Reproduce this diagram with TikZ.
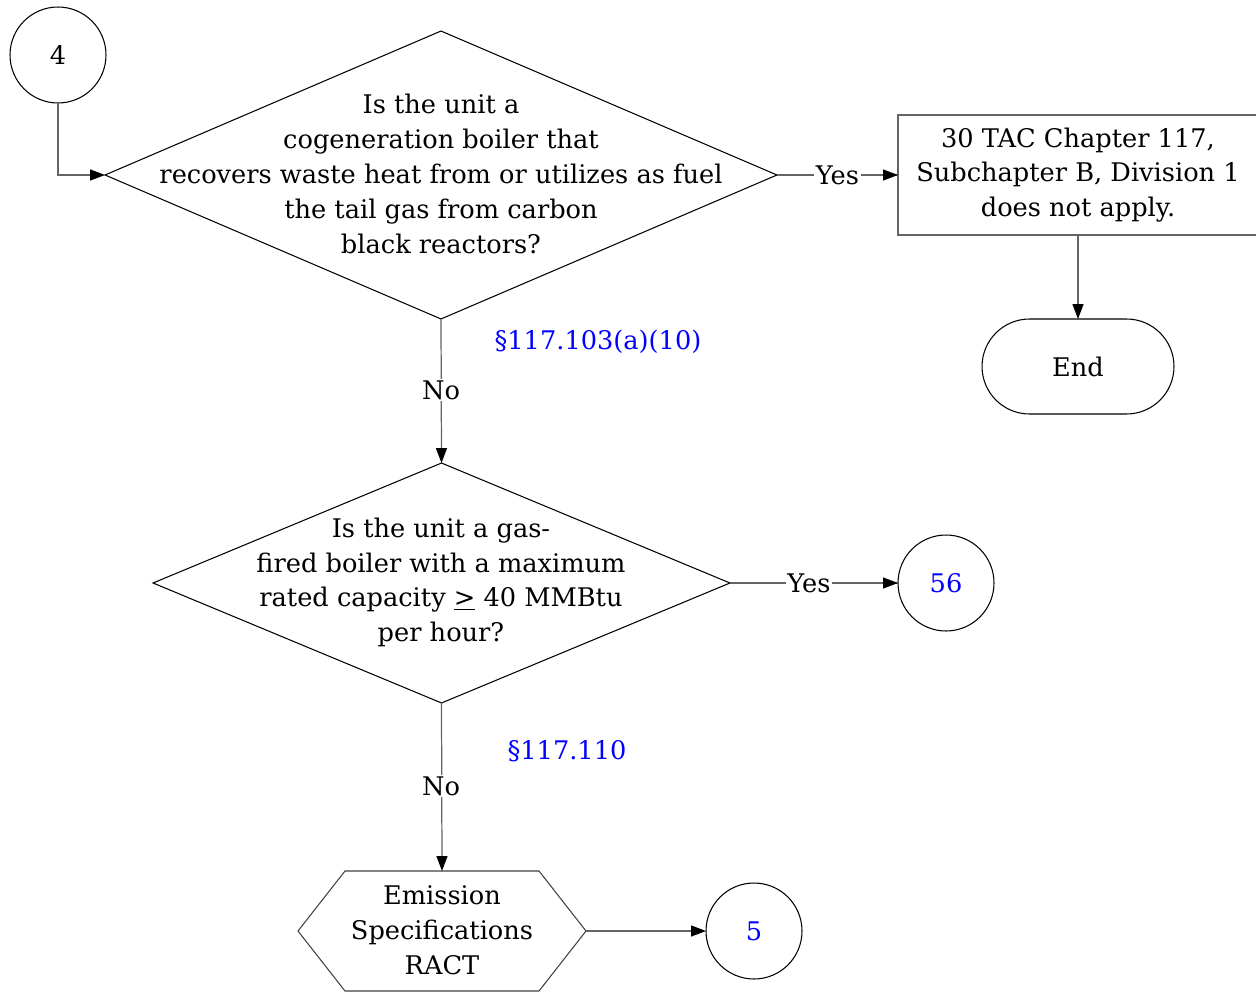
\documentclass[tikz,border=0pt]{standalone}
\usepackage{fontspec}
\setmainfont{DejaVu Serif}
\usetikzlibrary{shapes.geometric,arrows.meta}
\definecolor{lk}{RGB}{0,0,255}
\definecolor{cn}{RGB}{100,100,100}
\tikzset{
  every node/.style={font=\fontsize{14.6}{19.8}\selectfont},
  shp/.style={draw=black,line width=0.6pt,outer sep=0pt,inner sep=0pt},
  dia/.style={shp,diamond},
  circ/.style={shp,circle,minimum size=1.92cm},
  txt/.style={align=center,inner sep=0pt},
  conn/.style={draw=cn,line width=0.7pt,-{Triangle[length=0.3cm,width=0.22cm,color=black,fill=black]}},
  plain/.style={draw=cn,line width=0.7pt},
  lbl/.style={fill=white,inner sep=1pt},
  ref/.style={text=lk,inner sep=0pt}
}
\begin{document}
\begin{tikzpicture}[x=0.02cm,y=-0.02cm]
\useasboundingbox (0,0) rectangle (1256,993);
% start circle
\node[circ] (c4) at (58,55) {4};
% diamond 1
\node[dia,minimum width=13.44cm,minimum height=5.76cm] (d1) at (441,175) {};
\node[txt] (t1) at (441,174) {Is the unit a\\cogeneration boiler that\\recovers waste heat from or utilizes as fuel\\the tail gas from carbon\\black reactors?};
% box
\node[draw=cn,line width=0.7pt,minimum width=7.4cm,minimum height=2.4cm,outer sep=0pt,inner sep=0pt] (box) at (1083,175) {};
\node[txt] (tb) at (1078,175) {30 TAC Chapter 117,\\Subchapter B, Division 1\\does not apply.};
\coordinate (boxW) at (898,175);
\coordinate (boxS) at (1078,235);
% end
\node[shp,rounded corners=0.95cm,minimum width=3.84cm,minimum height=1.9cm] (end) at (1078,366.5) {End};
% diamond 2
\node[dia,minimum width=11.54cm,minimum height=4.8cm] (d2) at (441.5,583) {};
\node[txt] (t2) at (441,582.5) {Is the unit a gas-\\fired boiler with a maximum\\rated capacity \underline{>} 40 MMBtu\\per hour?};
% circle 56
\node[circ,text=lk] (c56) at (946,583) {56};
% hexagon
\coordinate (hT1) at (345,871);
\coordinate (hT2) at (539,871);
\coordinate (hR) at (586,931);
\coordinate (hB2) at (539,991);
\coordinate (hB1) at (345,991);
\coordinate (hL) at (298,931);
\coordinate (hN) at (442,871);
\draw[draw=black!75,line width=0.6pt] (hT1) -- (hT2) -- (hR) -- (hB2) -- (hB1) -- (hL) -- cycle;
\node[txt] (th) at (442,930) {Emission\\Specifications\\RACT};
% circle 5
\node[circ,text=lk] (c5) at (754,931) {5};
% connectors
\draw[conn] (c4.south) |- (d1.west);
\draw[plain] (d1.east) -- node[lbl,pos=0.5] (y1) {Yes} (boxW);
\draw[conn] (y1.east) -- (boxW);
\draw[conn] (boxS) -- (end.north);
\draw[conn] (d1.south) -- (d2.north);
\node[lbl] (n1) at (441,390) {No};
\node[ref] (r1) at (598,342) {§117.103(a)(10)};
\draw[plain] (d2.east) -- node[lbl,pos=0.47] (y2) {Yes} (c56.west);
\draw[conn] (y2.east) -- (c56.west);
\draw[conn] (d2.south) -- (hN);
\node[lbl] (n2) at (441,786) {No};
\node[ref] (r2) at (567,751) {§117.110};
\draw[conn] (hR) -- (c5.west);
\end{tikzpicture}
\end{document}
